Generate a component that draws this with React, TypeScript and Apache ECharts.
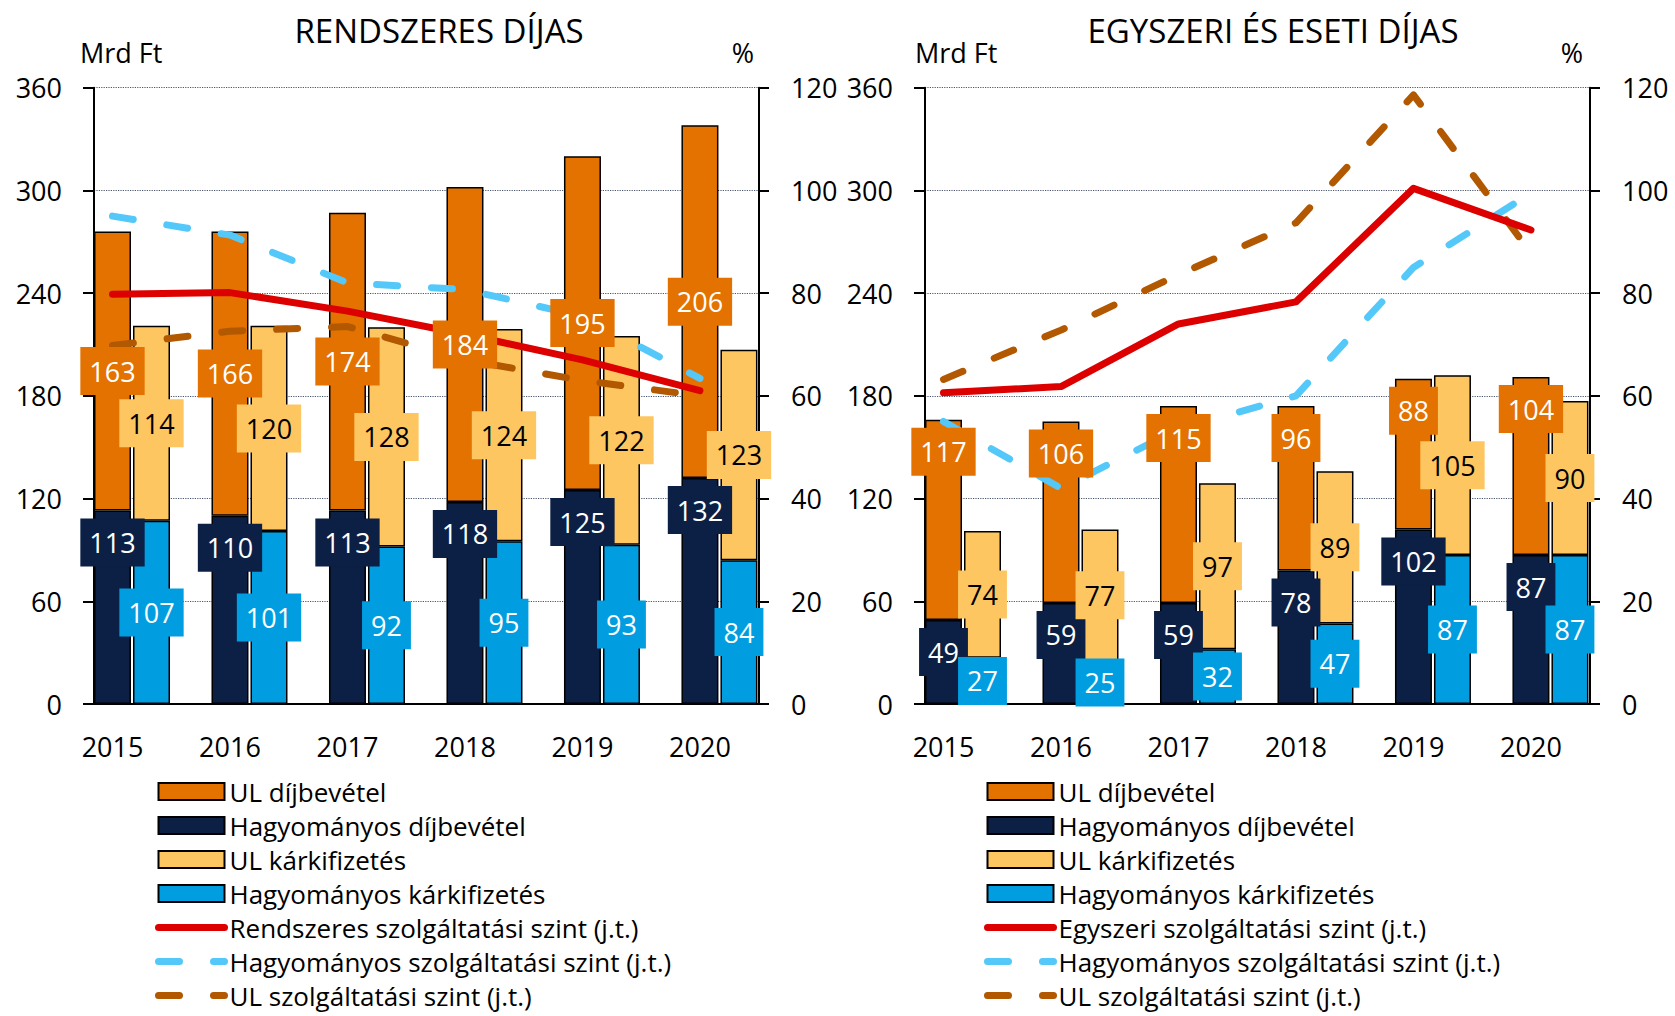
import React, { useEffect, useRef } from 'react';
import * as echarts from 'echarts';

// ---------------- DATA ----------------
const years = ['2015', '2016', '2017', '2018', '2019', '2020'];

// RENDSZERES DÍJAS (Mrd Ft)
const rendHagyDij = [113, 110, 113, 118, 125, 132];
const rendUlDij = [163, 166, 174, 184, 195, 206];
const rendHagyKar = [107, 101, 92, 95, 93, 84];
const rendUlKar = [114, 120, 128, 124, 122, 123];
// (%), right axis
const rendSzint = [79.8, 80.1, 76.5, 72.0, 67.0, 61.0];
const rendHagySzint = [95.0, 91.3, 82.0, 80.7, 75.5, 63.4];
const rendUlSzint = [69.8, 72.6, 73.5, 67.0, 63.0, 60.0];

// EGYSZERI ÉS ESETI DÍJAS (Mrd Ft)
const egyHagyDij = [49, 59, 59, 78, 102, 87];
const egyUlDij = [117, 106, 115, 96, 88, 104];
const egyHagyKar = [27, 25, 32, 47, 87, 87];
const egyUlKar = [74, 77, 97, 89, 105, 90];
// (%), right axis
const egySzint = [60.6, 61.8, 74.0, 78.3, 100.4, 92.3];
const egyHagySzint = [55.0, 42.0, 53.5, 60.0, 85.0, 99.5];
const egyUlSzint = [63.2, 72.8, 83.6, 93.7, 118.6, 87.8];

const leftAxis = { min: 0, max: 360, interval: 60 };
const rightAxis = { min: 0, max: 120, interval: 20 };

const N_UL_DIJ = 'UL díjbevétel';
const N_HAGY_DIJ = 'Hagyományos díjbevétel';
const N_UL_KAR = 'UL kárkifizetés';
const N_HAGY_KAR = 'Hagyományos kárkifizetés';
const N_HAGY_SZ = 'Hagyományos szolgáltatási szint (j.t.)';
const N_UL_SZ = 'UL szolgáltatási szint (j.t.)';

// ---------------- STYLE ----------------
const FONT = "'Open Sans', sans-serif";
const C_UL_DIJ = '#e47200';
const C_HAGY_DIJ = '#0c1f45';
const C_UL_KAR = '#fec660';
const C_HAGY_KAR = '#009ee0';
const C_RED = '#dc0000';
const C_LBLUE = '#55c8fa';
const C_BROWN = '#b15800';

const TOP = 87.7;
const PLOT_H = 616.3;
const FRAME_W = 665;
const BAND = FRAME_W / 5.66;
const BAR_W = 37;
const BAR_STEP = 39;
const FIRST_OFF = 18.5;
const LINE_W = 7;
const DASH = [21, 34];

type Panel = {
  title: string;
  titleX: number;
  frameLeft: number;
  mrdX: number;
  pctX: number;
  legendLeft: number;
  hagyDij: number[];
  ulDij: number[];
  hagyKar: number[];
  ulKar: number[];
  szintName: string;
  szint: number[];
  hagySzint: number[];
  ulSzint: number[];
  ulDijPos: string;
};

const panels: Panel[] = [
  {
    title: 'RENDSZERES DÍJAS',
    titleX: 439,
    frameLeft: 94,
    mrdX: 80,
    pctX: 743,
    legendLeft: 155,
    hagyDij: rendHagyDij,
    ulDij: rendUlDij,
    hagyKar: rendHagyKar,
    ulKar: rendUlKar,
    szintName: 'Rendszeres szolgáltatási szint (j.t.)',
    szint: rendSzint,
    hagySzint: rendHagySzint,
    ulSzint: rendUlSzint,
    ulDijPos: 'inside',
  },
  {
    title: 'EGYSZERI ÉS ESETI DÍJAS',
    titleX: 1273,
    frameLeft: 925,
    mrdX: 915,
    pctX: 1572,
    legendLeft: 984,
    hagyDij: egyHagyDij,
    ulDij: egyUlDij,
    hagyKar: egyHagyKar,
    ulKar: egyUlKar,
    szintName: 'Egyszeri szolgáltatási szint (j.t.)',
    szint: egySzint,
    hagySzint: egyHagySzint,
    ulSzint: egyUlSzint,
    ulDijPos: 'insideTop',
  },
];

function labelCfg(pos: string, bg: string, fg: string) {
  return {
    show: true,
    position: pos,
    distance: 8,
    backgroundColor: bg,
    color: fg,
    padding: [9, 9, 9, 9],
    fontSize: 27,
    lineHeight: 30,
    fontFamily: FONT,
  };
}

function buildOption() {
  const grid: any[] = [];
  const xAxis: any[] = [];
  const yAxis: any[] = [];
  const series: any[] = [];
  const legend: any[] = [];
  const graphic: any[] = [];

  panels.forEach((p, pi) => {
    const gF = pi * 3;
    const gA = gF + 1;
    const gB = gF + 2;
    const aLeft = p.frameLeft + FIRST_OFF - BAND / 2;
    grid.push({ left: p.frameLeft, top: TOP, width: FRAME_W, height: PLOT_H, outerBoundsMode: 'none' });
    grid.push({ left: aLeft, top: TOP, width: BAND * 6, height: PLOT_H, outerBoundsMode: 'none' });
    grid.push({ left: aLeft + BAR_STEP, top: TOP, width: BAND * 6, height: PLOT_H, outerBoundsMode: 'none' });

    // x axes
    xAxis.push({
      type: 'category', gridIndex: gF, data: years,
      axisLabel: { show: false }, axisTick: { show: false },
      axisLine: { show: true, lineStyle: { color: '#000', width: 2 } },
      splitLine: { show: false },
    });
    xAxis.push({
      type: 'category', gridIndex: gA, data: years,
      axisLine: { show: false }, axisTick: { show: false }, splitLine: { show: false },
      axisLabel: { show: true, fontSize: 27, lineHeight: 30, margin: 27, color: '#000', fontFamily: FONT, interval: 0 },
    });
    xAxis.push({
      type: 'category', gridIndex: gB, data: years, show: false,
    });

    const yF0 = pi * 5;
    // y axes
    yAxis.push({
      type: 'value', gridIndex: gF, position: 'left', ...leftAxis,
      axisLine: { show: true, lineStyle: { color: '#000', width: 2 } },
      axisTick: { show: true, inside: false, length: 11, lineStyle: { color: '#000', width: 2 } },
      axisLabel: { show: true, fontSize: 27, margin: 32, color: '#000', fontFamily: FONT },
      splitLine: { show: true, lineStyle: { color: '#4a5570', width: 1.2, type: 'dotted' } },
    });
    yAxis.push({
      type: 'value', gridIndex: gF, position: 'right', ...rightAxis,
      axisLine: { show: true, lineStyle: { color: '#000', width: 2 } },
      axisTick: { show: true, inside: false, length: 10, lineStyle: { color: '#000', width: 2 } },
      axisLabel: { show: true, fontSize: 27, margin: 32, color: '#000', fontFamily: FONT },
      splitLine: { show: false },
    });
    yAxis.push({ type: 'value', gridIndex: gA, ...leftAxis, show: false, splitLine: { show: false } });
    yAxis.push({ type: 'value', gridIndex: gA, ...rightAxis, show: false, splitLine: { show: false } });
    yAxis.push({ type: 'value', gridIndex: gB, ...leftAxis, show: false, splitLine: { show: false } });

    const xA = gA;
    const xB = gB;
    const yABar = yF0 + 2;
    const yALine = yF0 + 3;
    const yBBar = yF0 + 4;

    const bar = (name: string, data: number[], color: string, xi: number, yi: number) => ({
      type: 'bar', name, xAxisIndex: xi, yAxisIndex: yi, stack: 'v' + pi + '_' + xi,
      barWidth: BAR_W, barGap: '-100%', data,
      itemStyle: { color, borderColor: '#000', borderWidth: 1.5 },
      label: { show: false }, z: 2, emphasis: { disabled: true },
    });
    const lbl = (name: string, data: number[], pos: string, bg: string, fg: string, xi: number, yi: number) => ({
      type: 'bar', name, xAxisIndex: xi, yAxisIndex: yi, stack: 'l' + pi + '_' + xi,
      barWidth: BAR_W, barGap: '-100%', data,
      itemStyle: { color: 'rgba(0,0,0,0)', borderWidth: 0 },
      label: labelCfg(pos, bg, fg), z: 4, silent: true, emphasis: { disabled: true },
    });
    const line = (name: string, data: number[], color: string, dashed: boolean) => ({
      type: 'line', name, xAxisIndex: xA, yAxisIndex: yALine, data,
      symbol: 'none', showSymbol: false, z: 3,
      lineStyle: { color, width: LINE_W, type: dashed ? DASH : 'solid', cap: 'round', join: 'round' },
      itemStyle: { color },
      emphasis: { disabled: true },
    });

    series.push(bar(N_HAGY_DIJ, p.hagyDij, C_HAGY_DIJ, xA, yABar));
    series.push(bar(N_UL_DIJ, p.ulDij, C_UL_DIJ, xA, yABar));
    series.push(bar(N_HAGY_KAR, p.hagyKar, C_HAGY_KAR, xB, yBBar));
    series.push(bar(N_UL_KAR, p.ulKar, C_UL_KAR, xB, yBBar));
    series.push(line(N_HAGY_SZ, p.hagySzint, C_LBLUE, true));
    series.push(line(N_UL_SZ, p.ulSzint, C_BROWN, true));
    series.push(line(p.szintName, p.szint, C_RED, false));
    series.push(lbl('lbl-hd-' + pi, p.hagyDij, 'insideTop', C_HAGY_DIJ, '#fff', xA, yABar));
    series.push(lbl('lbl-ud-' + pi, p.ulDij, p.ulDijPos, C_UL_DIJ, '#fff', xA, yABar));
    series.push(lbl('lbl-hk-' + pi, p.hagyKar, 'inside', C_HAGY_KAR, '#fff', xB, yBBar));
    series.push(lbl('lbl-uk-' + pi, p.ulKar, 'inside', C_UL_KAR, '#000', xB, yBBar));

    const lineItem = (name: string) => ({
      name,
      itemStyle: { opacity: 0, color: 'rgba(0,0,0,0)', borderWidth: 0 },
      lineStyle: { width: LINE_W, opacity: 1 },
    });

    legend.push({
      orient: 'vertical', left: p.legendLeft, top: 777.5, padding: 0,
      width: 640, height: 300,
      itemWidth: 66, itemHeight: 17, itemGap: 6,
      textStyle: { fontSize: 26, lineHeight: 28, color: '#000', fontFamily: FONT },
      selectedMode: false,
      lineStyle: { width: LINE_W },
      data: [
        { name: N_UL_DIJ, icon: 'rect' },
        { name: N_HAGY_DIJ, icon: 'rect' },
        { name: N_UL_KAR, icon: 'rect' },
        { name: N_HAGY_KAR, icon: 'rect' },
        lineItem(p.szintName),
        lineItem(N_HAGY_SZ),
        lineItem(N_UL_SZ),
      ],
    });

    const txt = (text: string, x: number, y: number, size: number, align: string) => ({
      type: 'text', x, y, silent: true,
      style: {
        text, fill: '#000', fontSize: size, fontFamily: FONT,
        align, verticalAlign: 'middle', textAlign: align, textVerticalAlign: 'middle',
      },
    });
    graphic.push(txt(p.title, p.titleX, 30, 33, 'center'));
    graphic.push(txt('Mrd Ft', p.mrdX, 52.5, 27, 'left'));
    graphic.push(txt('%', p.pctX, 52.5, 27, 'center'));
  });

  return {
    animation: false,
    backgroundColor: '#fff',
    textStyle: { fontFamily: FONT },
    grid, xAxis, yAxis, series, legend, graphic,
  };
}

export default function App() {
  const ref = useRef<HTMLDivElement>(null);
  useEffect(() => {
    if (!ref.current) return;
    const chart = echarts.init(ref.current, undefined, { renderer: 'svg' });
    chart.setOption(buildOption() as any);
    return () => chart.dispose();
  }, []);
  return (
    <div
      ref={ref}
      style={{ position: 'absolute', left: 0, top: 0, width: 1675, height: 1016, background: '#fff' }}
    />
  );
}
